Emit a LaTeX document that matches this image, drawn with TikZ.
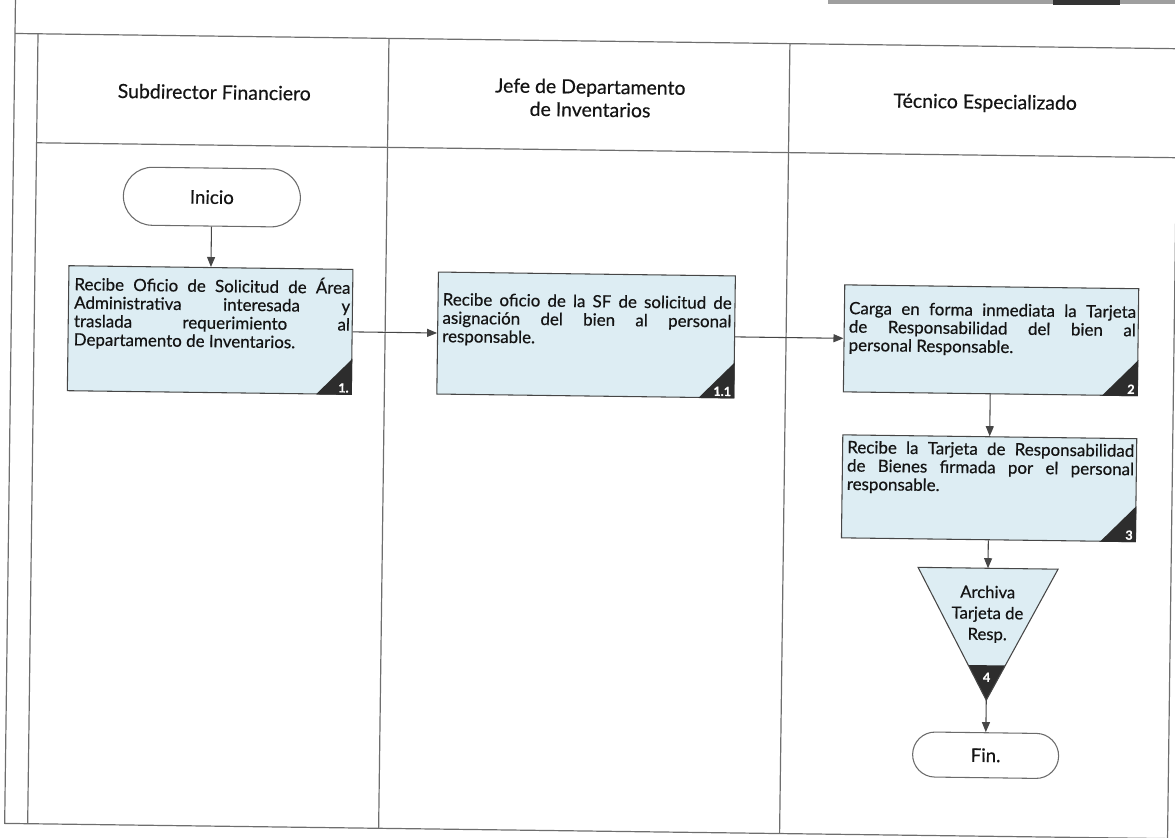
\documentclass[tikz,border=0pt]{standalone}
\usepackage{fontspec}
\setmainfont{Lato}[FakeBold=0.5]
\usetikzlibrary{arrows.meta}
\definecolor{boxfill}{RGB}{221,237,243}
\definecolor{framecol}{RGB}{110,110,110}
\definecolor{edgecol}{RGB}{70,70,70}
\definecolor{tagfill}{RGB}{45,45,45}
\definecolor{inkcol}{RGB}{20,20,20}
% one justified line of a task text
\newcommand\jl[2]{\makebox[#1][s]{#2}}
\begin{document}
\begin{tikzpicture}[x=0.75pt,y=-0.75pt,
  lane/.style={draw=framecol, line width=0.9pt},
  header/.style={font=\fontsize{14.6}{17.25}\selectfont, align=center, inner sep=0pt, text=inkcol},
  task/.style={draw=edgecol, line width=0.8pt, fill=boxfill, inner sep=0pt},
  tasktext/.style={anchor=north west, inner sep=0pt, align=left, text=inkcol, font=\fontsize{12.7}{13.8}\selectfont},
  terminal/.style={draw=edgecol!80, line width=0.8pt, fill=white, rounded corners=#1, inner sep=0pt, text=inkcol, font=\fontsize{14}{16}\selectfont},
  flow/.style={draw=edgecol, line width=0.8pt, -{Triangle[length=7.5pt,width=6pt]}},
  tag/.style={text=white, inner sep=0pt, font=\fontsize{9.5}{11}\selectfont\bfseries, anchor=south east}
]
\useasboundingbox (0,0) rectangle (1175,838);
\clip (0,0) rectangle (1175,838);
% dark band along the top edge
\fill[gray!75] (828,0) rectangle (1175,4);
\fill[black!80] (1053,0) rectangle (1120,5);
\begin{scope}[rotate around={-0.75:(587,419)}, transform shape]
% swimlane frame
\draw[lane] (10,-30) -- (10,831) -- (1190,831);
\draw[lane] (10,41) -- (1190,41);
\draw[lane] (33,41) -- (33,831);
\draw[lane] (33,150) -- (1190,150);
\draw[lane] (384,41) -- (384,831);
\draw[lane] (785,41) -- (785,831);
\draw[lane] (1173,150) -- (1173,831);
% lane headers
\node[header] (h1) at (210,97) {Subdirector Financiero};
\node[header] (h2) at (586,98) {Jefe de Departamento\\de Inventarios};
\node[header] (h3) at (981,98) {Técnico Especializado};
% start and end
\node[terminal=21.75pt, minimum width=132.75pt, minimum height=43.5pt] (ini) at (209,202) {Inicio};
\node[terminal=16.8pt, minimum width=109.5pt, minimum height=33.75pt] (fin) at (990,750) {Fin.};
% tasks
\node[task, minimum width=213pt, minimum height=93.75pt] (b1) at (209,335) {};
\node[task, minimum width=222.75pt, minimum height=91.5pt] (b11) at (585,335) {};
\node[task, minimum width=220.5pt, minimum height=80.25pt] (b2) at (990,335) {};
\node[task, minimum width=220.5pt, minimum height=77.25pt] (b3) at (990,483) {};
\node[tasktext] (b1t) at ([shift={(6,9)}]b1.north west)
  {\jl{207pt}{Recibe Oficio de Solicitud de Área}\\
   \jl{207pt}{Administrativa interesada y}\\
   \jl{207pt}{traslada requerimiento al}\\
   Departamento de Inventarios.};
\node[tasktext] (b11t) at ([shift={(5,21)}]b11.north west)
  {\jl{216.75pt}{Recibe oficio de la SF de solicitud de}\\
   \jl{216.75pt}{asignación del bien al personal}\\
   responsable.};
\node[tasktext] (b2t) at ([shift={(5,17)}]b2.north west)
  {\jl{215.25pt}{Carga en forma inmediata la Tarjeta}\\
   \jl{215.25pt}{de Responsabilidad del bien al}\\
   personal Responsable.};
\node[tasktext] (b3t) at ([shift={(5,6)}]b3.north west)
  {\jl{215.25pt}{Recibe la Tarjeta de Responsabilidad}\\
   \jl{215.25pt}{de Bienes firmada por el personal}\\
   responsable.};
% step numbers in the lower right corners
\foreach \b/\n in {b1/1., b11/1.1, b2/2, b3/3}{
  \fill[tagfill] (\b.south east) -- ++(-27pt,0pt) -- ++(27pt,27pt) -- cycle;
  \node[tag] (\b n) at ([shift={(-3,-2)}]\b.south east) {\n};
}
% archive symbol
\coordinate (a4top) at (990,563);
\coordinate (a4tip) at (990,695);
\fill[boxfill] (920,563) -- (1060,563) -- (a4tip) -- cycle;
\fill[tagfill] (971.4,660) -- (1008.6,660) -- (a4tip) -- cycle;
\draw[edgecol, line width=0.8pt, line join=miter] (920,563) -- (1060,563) -- (a4tip) -- cycle;
\node[font=\fontsize{12.5}{15.75}\selectfont, align=center, inner sep=0pt, text=inkcol] (a4t) at (990,609) {Archiva\\Tarjeta de\\Resp.};
\node[tag, anchor=center] (a4n) at (990,672) {4};
% connectors
\draw[flow] (ini) -- (b1);
\draw[flow] (b1) -- (b11);
\draw[flow] (b11) -- (b2);
\draw[flow] (b2) -- (b3);
\draw[flow] (b3) -- (a4top);
\draw[flow] (a4tip) -- (fin);
\end{scope}
\end{tikzpicture}
\end{document}
